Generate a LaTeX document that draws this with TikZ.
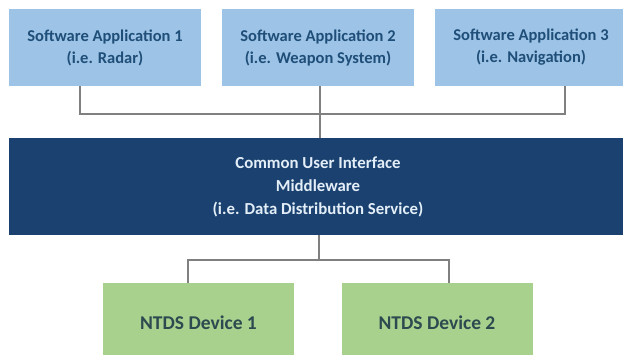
\documentclass[tikz,border=0pt]{standalone}
\usepackage{fontspec}
\setmainfont{Carlito}
\definecolor{appfill}{HTML}{9DC3E6}
\definecolor{apptext}{HTML}{1F4E79}
\definecolor{mwfill}{HTML}{1A416F}
\definecolor{mwtext}{HTML}{E3EEF8}
\definecolor{devfill}{HTML}{A9D18E}
\definecolor{devtext}{HTML}{2C4A4F}
\definecolor{wire}{HTML}{808080}
\tikzset{
  appbox/.style={fill=appfill, text=apptext, minimum width=192pt, minimum height=77pt,
    inner sep=0pt, align=center, font=\bfseries\fontsize{16.5}{22}\selectfont},
  mwbox/.style={fill=mwfill, text=mwtext, minimum width=618pt, minimum height=97pt,
    inner sep=0pt, align=center, font=\bfseries\fontsize{16.8}{23}\selectfont},
  devbox/.style={fill=devfill, text=devtext, minimum width=191pt, minimum height=80pt,
    inner sep=0pt, align=center, font=\bfseries\fontsize{19.5}{23}\selectfont},
  wireline/.style={draw=wire, line width=1.3pt}
}
\begin{document}
\begin{tikzpicture}[x=1pt, y=-1pt]
  \useasboundingbox (0,0) rectangle (623,354);
  \fill[white] (0,0) rectangle (623,354);

  % application layer
  \node[appbox] (a1) at (105,47.5) {Software Application 1\\(i.e. Radar)};
  \node[appbox] (a2) at (318,47.5) {Software Application 2\\(i.e. Weapon System)};
  \node[appbox] (a3) at (531,47.5) {Software Application 3\\(i.e. Navigation)};

  % middleware layer
  \node[mwbox] (mw) at (318,186.5) {Common User Interface\\Middleware\\(i.e. Data Distribution Service)};

  % device layer
  \node[devbox] (d1) at (198.5,323) {NTDS Device 1};
  \node[devbox] (d2) at (437,323) {NTDS Device 2};

  % upper bus
  \coordinate (u1) at (80,114);
  \coordinate (u3) at (565,114);
  \coordinate (u2) at (320,114);
  \draw[wireline] (a1.south -| u1) -- (u1) -- (u3) -- (a3.south -| u3);
  \draw[wireline] (a2.south -| u2) -- (mw.north -| u2);

  % lower bus
  \coordinate (l0) at (319,260);
  \coordinate (l1) at (188,260);
  \coordinate (l2) at (449,260);
  \draw[wireline] (mw.south -| l0) -- (l0);
  \draw[wireline] (d1.north -| l1) -- (l1) -- (l2) -- (d2.north -| l2);
\end{tikzpicture}
\end{document}
